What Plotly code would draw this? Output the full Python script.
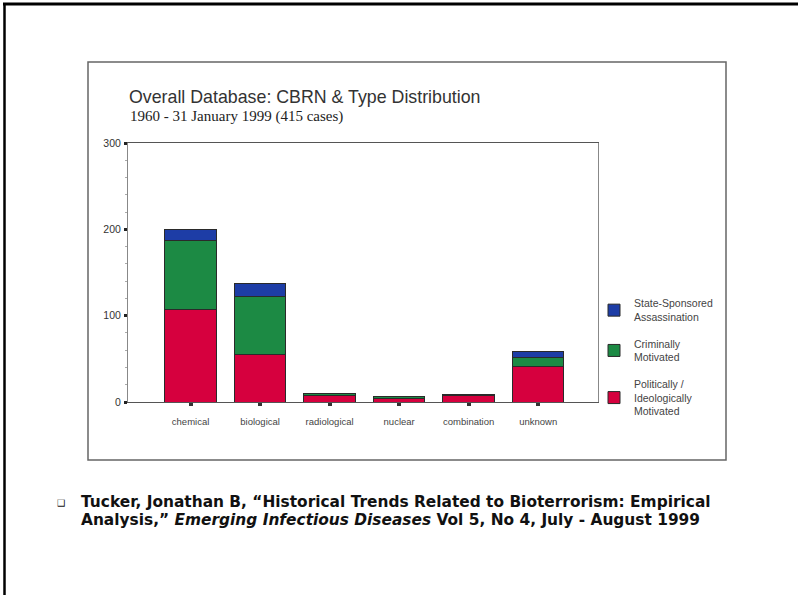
import plotly.graph_objects as go

# Incident counts by agent category, split by motive
categories = ["chemical", "biological", "radiological", "nuclear", "combination", "unknown"]
political = [107, 55, 8, 4, 7, 41]
criminal = [80, 67, 2, 2, 0, 10]
state = [13, 15, 0, 0, 2, 8]

series_names = [
    "Politically /<br>Ideologically<br>Motivated",
    "Criminally<br>Motivated",
    "State-Sponsored<br>Assassination",
]
series_colors = ["#D6003E", "#1C8A44", "#1D3DA6"]
legend_ranks = [3, 2, 1]
y_ticks = [0, 100, 200, 300]

# plot-area box in page pixels
PL, PR, PT, PB = 128, 598, 143, 402
FW, FH = 798, 595


def px(x):
    return (x - PL) / (PR - PL)


def py(y):
    return (PB - y) / (PB - PT)


fig = go.Figure()
for name, vals, col, rank in zip(series_names, [political, criminal, state],
                                 series_colors, legend_ranks):
    fig.add_trace(go.Bar(
        x=categories, y=vals, name=name, legendgroup=name, legendrank=rank,
        marker=dict(color=col, line=dict(color="#2a2a2a", width=1)),
        width=0.74,
    ))

fig.update_layout(
    width=FW, height=FH,
    margin=dict(l=PL, r=FW - PR, t=PT, b=FH - PB, pad=0),
    paper_bgcolor="white", plot_bgcolor="white",
    barmode="stack",
    showlegend=True,
    legend=dict(
        x=px(594), y=py(290), xanchor="left", yanchor="top",
        traceorder="grouped", tracegroupgap=10,
        font=dict(family="Liberation Sans, Arial, sans-serif", size=10.5, color="#444"),
        bgcolor="rgba(0,0,0,0)", valign="middle",
    ),
    xaxis=dict(
        range=[-0.9, 5.86], showgrid=False, zeroline=False,
        showline=True, linecolor="#555", linewidth=1, mirror=True,
        ticks="outside", ticklen=3, tickwidth=4, tickcolor="#333",
        ticklabelstandoff=8,
        tickfont=dict(family="Liberation Sans, Arial, sans-serif", size=9.5, color="#444"),
    ),
    yaxis=dict(
        range=[0, 300], showgrid=False, zeroline=False,
        tickvals=y_ticks, ticktext=[str(v) for v in y_ticks],
        showline=True, linecolor="#888", linewidth=1, mirror=True,
        ticks="outside", ticklen=3, tickwidth=3, tickcolor="#222",
        ticklabelstandoff=1,
        tickfont=dict(family="Liberation Sans Narrow, Liberation Sans, Arial, sans-serif", size=10.5, color="#333"),
        minor=dict(dtick=20, ticks="outside", ticklen=2, tickwidth=1, tickcolor="#aaa"),
    ),
    font=dict(family="Liberation Sans, Arial, sans-serif"),
)

# slide border (top and left edges visible) and chart frame
fig.add_shape(type="line", xref="paper", yref="paper",
              x0=px(3), x1=px(FW + 5), y0=py(4), y1=py(4),
              line=dict(color="black", width=3))
fig.add_shape(type="line", xref="paper", yref="paper",
              x0=px(4.5), x1=px(4.5), y0=py(3), y1=py(FH + 5),
              line=dict(color="black", width=2.5))
fig.add_shape(type="rect", xref="paper", yref="paper",
              x0=px(88), x1=px(726), y0=py(62), y1=py(460),
              line=dict(color="#666", width=1.5))

fig.add_annotation(
    xref="paper", yref="paper", x=px(127), y=py(97),
    xanchor="left", yanchor="middle", showarrow=False,
    text="Overall Database: CBRN & Type Distribution",
    font=dict(family="Liberation Sans, Arial, sans-serif", size=17.8, color="#333"),
)
fig.add_annotation(
    xref="paper", yref="paper", x=px(128), y=py(116),
    xanchor="left", yanchor="middle", showarrow=False,
    text="1960 - 31 January 1999 (415 cases)",
    font=dict(family="Liberation Serif, Times New Roman, serif", size=15, color="#222"),
)

# citation below the chart
fig.add_annotation(
    xref="paper", yref="paper", x=px(55), y=py(503),
    xanchor="left", yanchor="middle", showarrow=False,
    text="❑",
    font=dict(family="DejaVu Sans", size=9, color="#111"),
)
cite_lines = [
    "<b>Tucker, Jonathan B, “Historical Trends Related to Bioterrorism: Empirical</b>",
    "<b>Analysis,” <i>Emerging Infectious Diseases</i> Vol 5, No 4, July - August 1999</b>",
]
for line, yy in zip(cite_lines, [502, 520]):
    fig.add_annotation(
        xref="paper", yref="paper", x=px(79), y=py(yy),
        xanchor="left", yanchor="middle", showarrow=False, align="left",
        text=line,
        font=dict(family="DejaVu Sans, Verdana, sans-serif", size=15.4, color="#111"),
    )

fig.write_html("out.html")
